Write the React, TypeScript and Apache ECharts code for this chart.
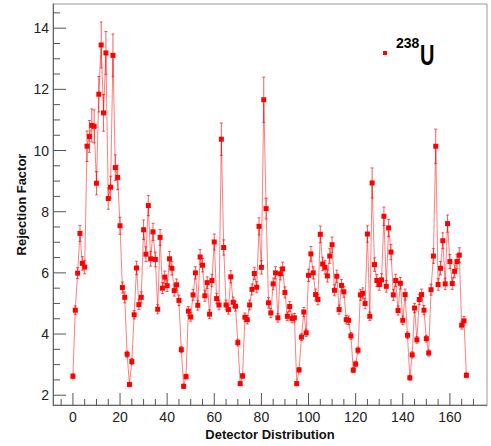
import React, { useEffect, useRef } from "react";
import * as echarts from "echarts";

// Rejection factor per detector (index 0..167)
const rejection = [
  2.62, 4.78, 5.99, 7.29, 6.31, 6.19, 10.14, 10.46, 10.82, 10.79,
  8.93, 11.84, 13.45, 11.23, 13.19, 8.43, 8.8, 13.11, 9.44, 9.12,
  7.54, 5.52, 5.2, 3.34, 2.35, 3.1, 4.63, 6.16, 4.96, 5.2,
  7.41, 6.61, 8.2, 6.46, 7.34, 6.44, 4.81, 7.16, 5.5, 5.86,
  5.58, 6.46, 6.15, 5.42, 5.61, 5.1, 3.49, 2.29, 2.61, 4.75,
  4.56, 5.28, 6.0, 4.94, 6.52, 6.25, 5.25, 5.68, 4.65, 5.75,
  7.01, 5.16, 4.95, 10.37, 6.83, 4.95, 4.8, 5.87, 5.04, 4.91,
  3.72, 2.38, 2.63, 4.55, 4.47, 4.95, 5.46, 5.98, 5.53, 7.52,
  6.18, 11.66, 8.1, 5.02, 4.69, 5.64, 6.0, 4.53, 5.97, 6.13,
  5.36, 4.58, 4.9, 4.51, 4.53, 2.38, 2.83, 3.9, 4.72, 4.04,
  5.92, 6.62, 6.0, 5.29, 5.13, 7.26, 6.29, 6.18, 5.9, 6.55,
  6.92, 5.43, 5.89, 4.8, 5.59, 5.38, 4.47, 4.45, 3.94, 2.82,
  3.02, 3.47, 5.28, 5.33, 5.0, 7.27, 4.58, 8.94, 6.27, 5.75,
  5.62, 5.77, 7.85, 5.56, 7.47, 6.68, 5.28, 5.75, 4.77, 5.66,
  4.45, 5.29, 3.96, 2.57, 3.32, 4.85, 3.81, 5.13, 5.29, 4.78,
  3.85, 3.38, 5.45, 6.55, 10.14, 5.62, 6.15, 7.05, 5.64, 7.61,
  6.37, 5.65, 6.05, 6.37, 6.58, 4.29, 4.43, 2.65,
];

// Estimated symmetric error per point
const errors = [
  0.08, 0.14, 0.18, 0.26, 0.22, 0.22, 0.5, 0.52, 0.54, 0.54,
  0.38, 0.58, 0.75, 0.6, 0.7, 0.35, 0.36, 0.7, 0.42, 0.4,
  0.28, 0.18, 0.18, 0.1, 0.07, 0.1, 0.14, 0.22, 0.16, 0.18,
  0.32, 0.24, 0.33, 0.24, 0.28, 0.24, 0.15, 0.26, 0.18, 0.2,
  0.19, 0.24, 0.22, 0.18, 0.19, 0.17, 0.1, 0.07, 0.08, 0.15,
  0.14, 0.18, 0.2, 0.16, 0.24, 0.22, 0.18, 0.19, 0.14, 0.2,
  0.26, 0.17, 0.16, 0.53, 0.25, 0.16, 0.15, 0.2, 0.17, 0.16,
  0.11, 0.07, 0.08, 0.14, 0.14, 0.16, 0.18, 0.2, 0.18, 0.28,
  0.22, 0.74, 0.34, 0.17, 0.15, 0.19, 0.2, 0.14, 0.2, 0.22,
  0.18, 0.14, 0.16, 0.14, 0.14, 0.07, 0.08, 0.11, 0.15, 0.12,
  0.2, 0.24, 0.2, 0.18, 0.17, 0.27, 0.22, 0.22, 0.2, 0.24,
  0.25, 0.18, 0.2, 0.15, 0.19, 0.18, 0.14, 0.14, 0.11, 0.08,
  0.09, 0.1, 0.18, 0.18, 0.17, 0.27, 0.14, 0.49, 0.22, 0.2,
  0.19, 0.2, 0.3, 0.19, 0.28, 0.25, 0.18, 0.2, 0.15, 0.19,
  0.14, 0.18, 0.11, 0.08, 0.1, 0.15, 0.11, 0.17, 0.18, 0.15,
  0.11, 0.1, 0.18, 0.24, 0.56, 0.19, 0.22, 0.26, 0.19, 0.28,
  0.23, 0.19, 0.21, 0.23, 0.24, 0.13, 0.14, 0.08,
];

const xMajorTicks = [0, 20, 40, 60, 80, 100, 120, 140, 160];
const xMinorTicks = [-5, 5, 10, 15, 25, 30, 35, 45, 50, 55, 65, 70, 75, 85, 90, 95, 105, 110, 115, 125, 130, 135, 145, 150, 155, 165, 170];
const yMajorTicks = [2, 4, 6, 8, 10, 12, 14];
const yMinorTicks = [2.5, 3, 3.5, 4.5, 5, 5.5, 6.5, 7, 7.5, 8.5, 9, 9.5, 10.5, 11, 11.5, 12.5, 13, 13.5, 14.5];

const X_MIN = -8.45;
const X_MAX = 175.75;
const Y_MIN = 1.68;
const Y_MAX = 14.79;

const FONT = "'Liberation Sans', Arial, Helvetica, sans-serif";

export default function App() {
  const ref = useRef<HTMLDivElement>(null);

  useEffect(() => {
    const chart = echarts.init(ref.current!, null, { renderer: "svg" });

    const points = rejection.map((v, i) => [i, v]);
    const errData = rejection.map((v, i) => [i, v - errors[i], v + errors[i]]);

    const tickSeries = (data: number[][], vertical: boolean, len: number) => ({
      type: "custom",
      coordinateSystem: "cartesian2d",
      silent: true,
      clip: false,
      z: 6,
      data,
      renderItem: (_p: any, api: any) => {
        const p = api.coord([api.value(0), api.value(1)]);
        const shape = vertical
          ? { x1: p[0], y1: p[1], x2: p[0], y2: p[1] - len }
          : { x1: p[0], y1: p[1], x2: p[0] + len, y2: p[1] };
        return { type: "line", shape, style: { stroke: "#555", lineWidth: 1 } };
      },
    });

    chart.setOption({
      animation: false,
      backgroundColor: "#ffffff",
      grid: {
        left: 53,
        right: 4,
        top: 4,
        bottom: 41,
        show: true,
        borderColor: "#9a9a9a",
        borderWidth: 1,
        containLabel: false,
        outerBoundsMode: "none",
      },
      xAxis: {
        type: "value",
        min: X_MIN,
        max: X_MAX,
        splitNumber: 9,
        name: "Detector Distribution",
        nameLocation: "middle",
        nameGap: 23,
        nameMoveOverlap: false,
        nameTextStyle: { fontFamily: FONT, fontSize: 13, fontWeight: "bold", color: "#111" },
        axisLine: { show: true, onZero: false, lineStyle: { color: "#666", width: 1 } },
        axisTick: { show: false },
        splitLine: { show: false },
        axisLabel: {
          margin: 5,
          fontFamily: FONT,
          fontSize: 14,
          color: "#222",
          formatter: (v: number) => (Math.abs(v % 20) < 1e-6 ? String(v) : ""),
        },
      },
      yAxis: {
        type: "value",
        min: Y_MIN,
        max: Y_MAX,
        splitNumber: 6,
        name: "Rejection Factor",
        nameLocation: "middle",
        nameGap: 25,
        nameMoveOverlap: false,
        nameTextStyle: { fontFamily: FONT, fontSize: 13, fontWeight: "bold", color: "#111" },
        axisLine: { show: true, onZero: false, lineStyle: { color: "#666", width: 1 } },
        axisTick: { show: false },
        splitLine: { show: false },
        axisLabel: {
          margin: 4,
          fontFamily: FONT,
          fontSize: 14,
          color: "#222",
          formatter: (v: number) => (Math.abs(v % 2) < 1e-6 && v >= 2 ? String(v) : ""),
        },
      },
      graphic: [
        { type: "rect", shape: { x: 383, y: 51, width: 4, height: 4 }, style: { fill: "#ff0000" } },
        {
          type: "text",
          x: 396,
          y: 43,
          style: { text: "238", font: `bold 14px ${FONT}`, fill: "#000", align: "left", verticalAlign: "middle" },
        },
        {
          type: "text",
          x: 420,
          y: 55,
          scaleY: 1.45,
          style: { text: "U", font: `bold 20px ${FONT}`, fill: "#000", align: "left", verticalAlign: "middle" },
        },
      ],
      series: [
        {
          type: "custom",
          name: "errors",
          coordinateSystem: "cartesian2d",
          silent: true,
          z: 2,
          encode: { x: 0, y: [1, 2] },
          data: errData,
          renderItem: (_p: any, api: any) => {
            const x = api.value(0);
            const lo = api.coord([x, api.value(1)]);
            const hi = api.coord([x, api.value(2)]);
            const st = { stroke: "rgba(255,0,0,0.65)", lineWidth: 1 };
            return {
              type: "group",
              children: [
                { type: "line", shape: { x1: lo[0], y1: lo[1], x2: hi[0], y2: hi[1] }, style: st },
                { type: "line", shape: { x1: lo[0] - 1.5, y1: lo[1], x2: lo[0] + 1.5, y2: lo[1] }, style: st },
                { type: "line", shape: { x1: hi[0] - 1.5, y1: hi[1], x2: hi[0] + 1.5, y2: hi[1] }, style: st },
              ],
            };
          },
        },
        {
          type: "line",
          name: "238U",
          data: points,
          z: 3,
          symbol: "rect",
          symbolSize: 5,
          showAllSymbol: true,
          silent: true,
          itemStyle: { color: "#ff0000" },
          lineStyle: { color: "rgba(255,0,0,0.5)", width: 1 },
          emphasis: { disabled: true },
        },
        tickSeries(xMajorTicks.map((v) => [v, Y_MIN]), true, 12),
        tickSeries(xMinorTicks.map((v) => [v, Y_MIN]), true, 6),
        tickSeries(yMajorTicks.map((v) => [X_MIN, v]), false, 13),
        tickSeries(yMinorTicks.map((v) => [X_MIN, v]), false, 7),
      ],
    });

    return () => chart.dispose();
  }, []);

  return (
    <div
      ref={ref}
      style={{ position: "absolute", left: 0, top: 0, width: 491, height: 446, background: "#fff" }}
    />
  );
}
